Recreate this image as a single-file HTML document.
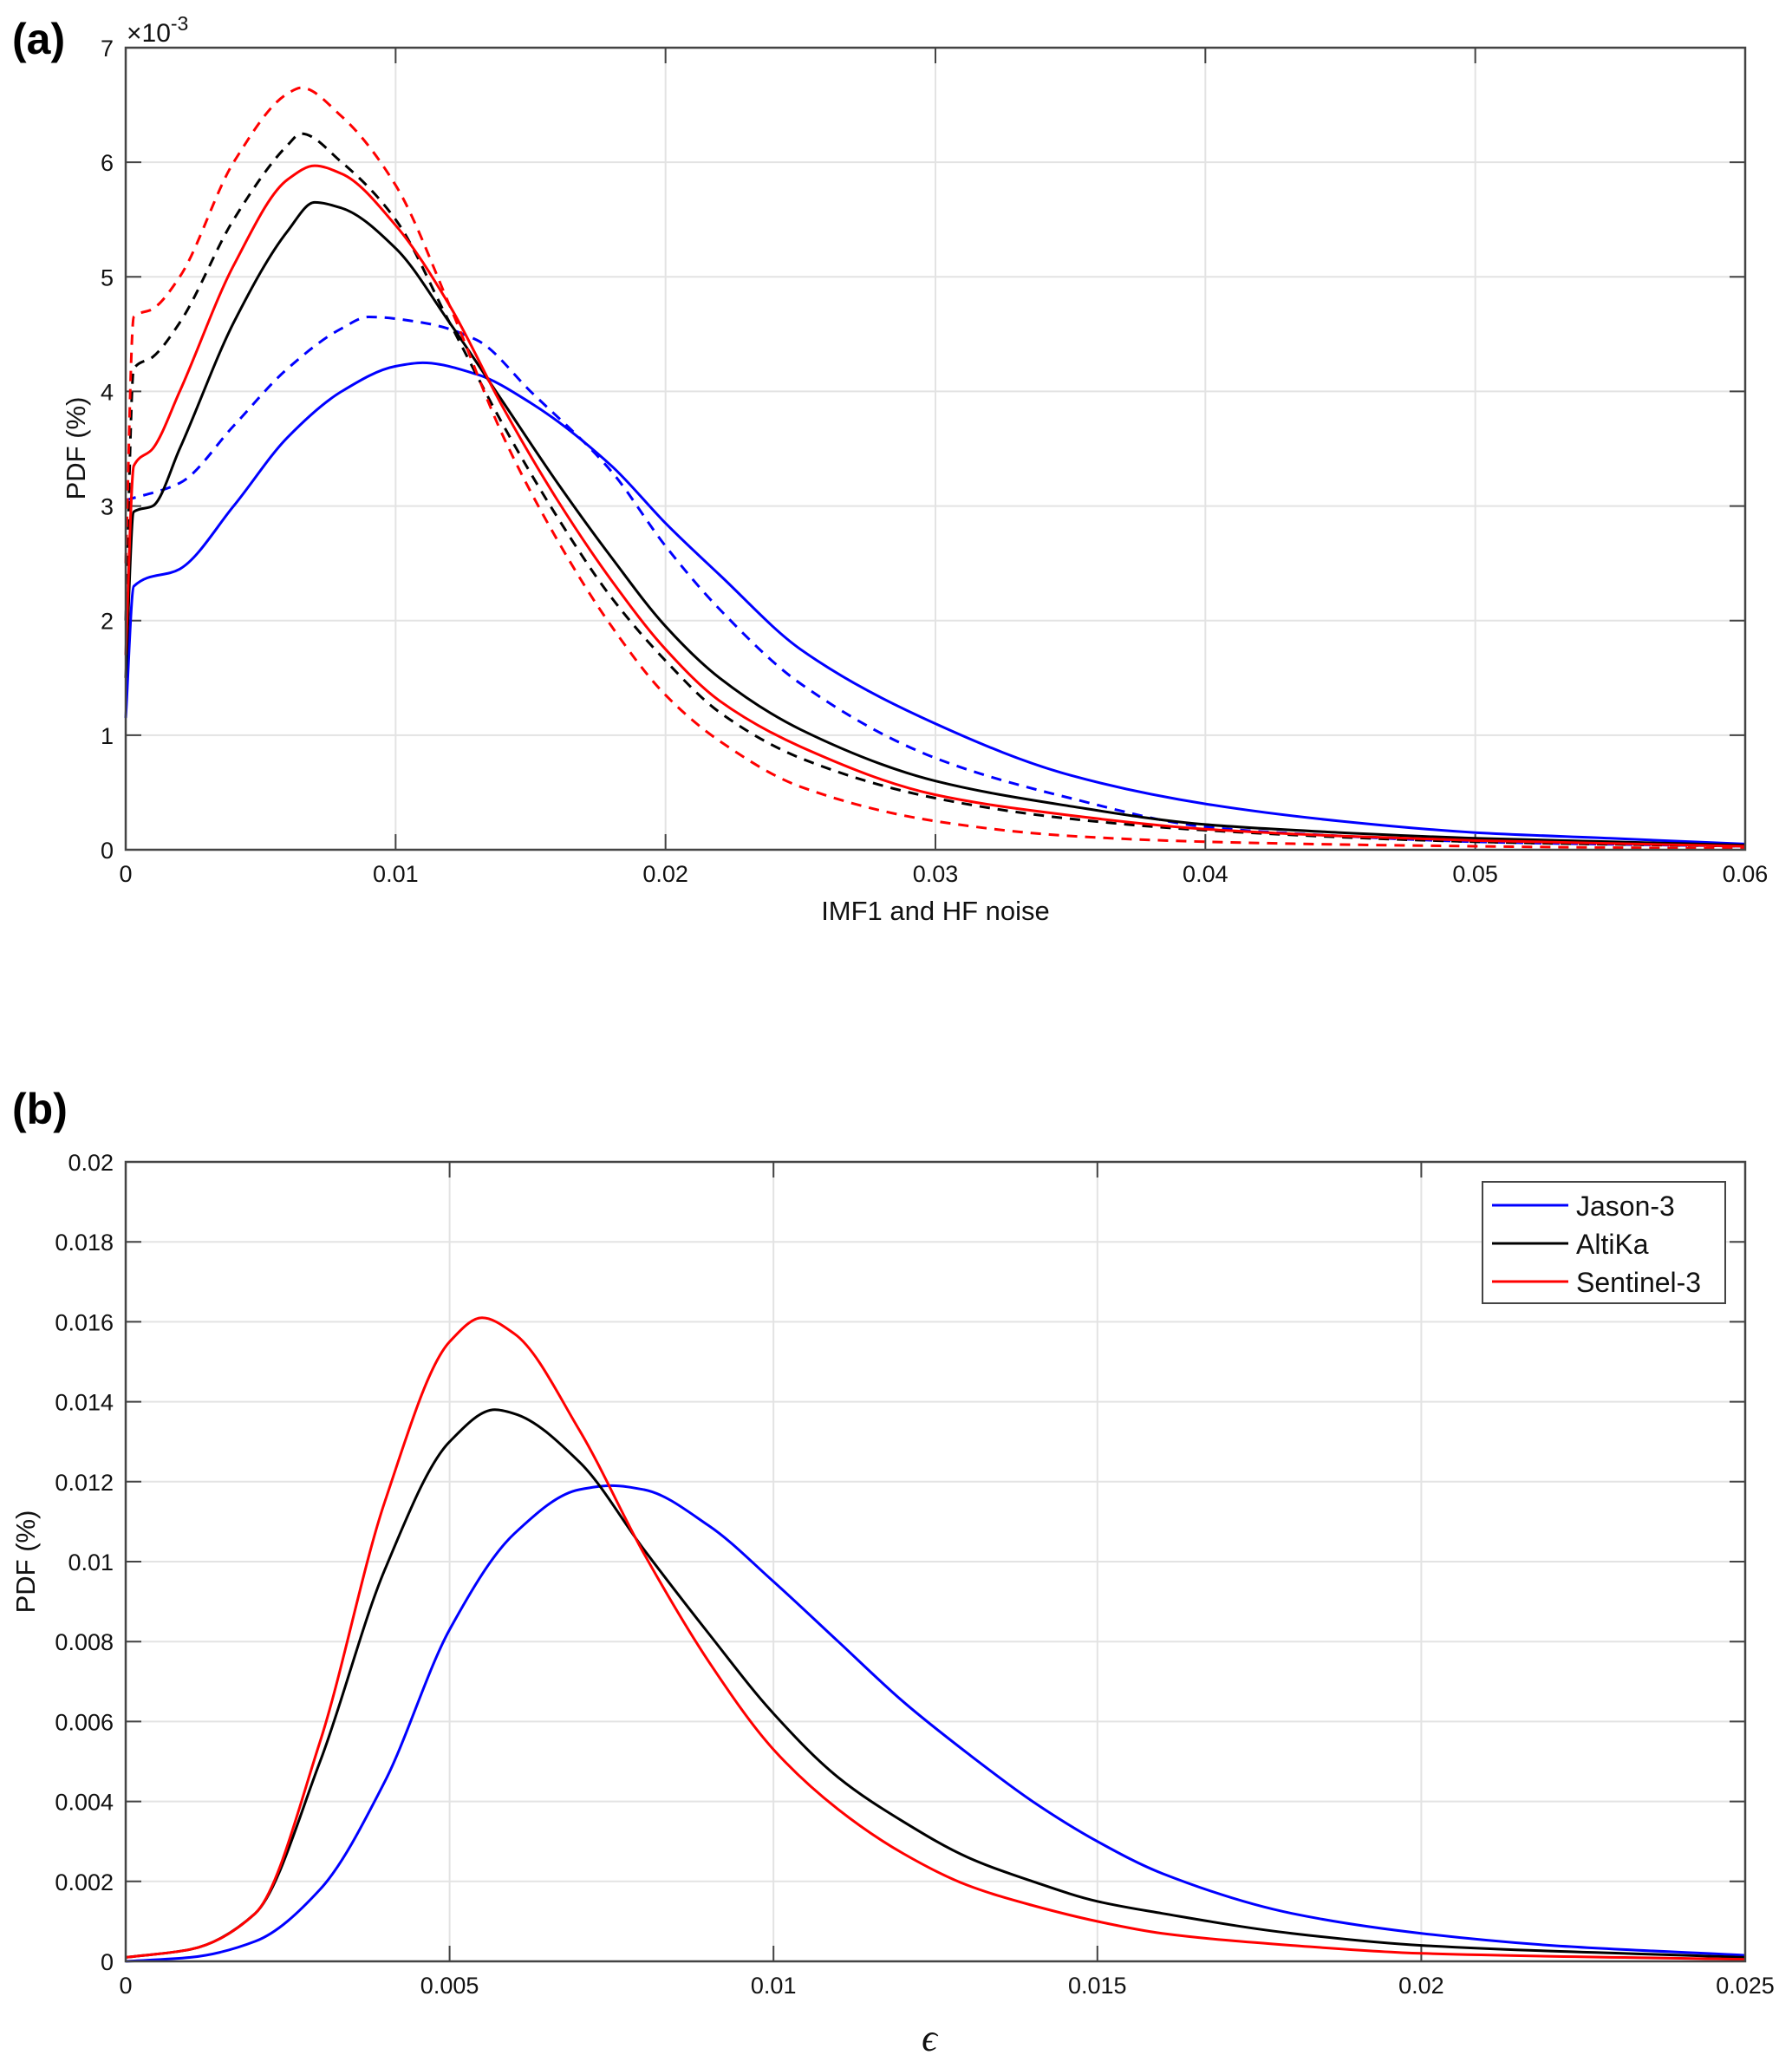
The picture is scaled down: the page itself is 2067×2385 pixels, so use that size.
<!DOCTYPE html>
<html><head><meta charset="utf-8"><style>
html,body{margin:0;padding:0;background:#fff;}
svg{display:block;font-family:"Liberation Sans",Arial,sans-serif;}
</style></head><body>
<svg id="fig" width="2067" height="2385" viewBox="0 0 2067 2385" xmlns="http://www.w3.org/2000/svg">
<rect width="2067" height="2385" fill="#fff"/>
<text x="14" y="62" font-size="50" font-weight="bold">(a)</text>
<text x="14" y="1296" font-size="50" font-weight="bold">(b)</text>
<g id="pa"></g>
<g id="pb"></g>
</svg>
<script>
// Panel (a) data (y in units of 1e-3)
const aTicksX = [0,0.01,0.02,0.03,0.04,0.05,0.06];
const aTickLabelsX = ["0","0.01","0.02","0.03","0.04","0.05","0.06"];
const aTicksY = [0,1,2,3,4,5,6,7];
const aX_blueSolid = [0,0.0003,0.002,0.004,0.006,0.008,0.01,0.011,0.013,0.015,0.018,0.02,0.022,0.025,0.03,0.035,0.04,0.045,0.05,0.055,0.06];
const aY_blueSolid = [1.15,2.3,2.45,3.0,3.6,4.0,4.22,4.25,4.15,3.9,3.35,2.85,2.4,1.75,1.1,0.65,0.4,0.25,0.15,0.1,0.05];
const aX_blueDash = [0,0.002,0.004,0.006,0.008,0.009,0.011,0.013,0.015,0.018,0.02,0.022,0.025,0.03,0.035,0.04,0.045,0.05,0.06];
const aY_blueDash = [3.05,3.2,3.7,4.2,4.55,4.65,4.6,4.45,4.0,3.3,2.65,2.1,1.45,0.8,0.45,0.2,0.12,0.07,0.03];
const aX_blackSolid = [0,0.0003,0.001,0.002,0.004,0.006,0.007,0.008,0.01,0.012,0.014,0.016,0.018,0.02,0.022,0.025,0.03,0.035,0.04,0.045,0.05,0.06];
const aY_blackSolid = [1.5,2.95,3.0,3.5,4.6,5.4,5.65,5.6,5.25,4.6,3.9,3.2,2.55,1.95,1.5,1.05,0.6,0.38,0.22,0.15,0.1,0.04];
const aX_blackDash = [0,0.0003,0.001,0.002,0.004,0.006,0.0065,0.008,0.01,0.012,0.014,0.016,0.018,0.02,0.022,0.025,0.03,0.035,0.04,0.05,0.06];
const aY_blackDash = [2.0,4.2,4.3,4.6,5.5,6.15,6.25,6.0,5.5,4.6,3.7,2.9,2.2,1.65,1.2,0.8,0.45,0.27,0.17,0.07,0.03];
const aX_redSolid = [0,0.0003,0.001,0.002,0.004,0.006,0.007,0.008,0.01,0.012,0.014,0.016,0.018,0.02,0.022,0.025,0.03,0.035,0.04,0.045,0.05,0.06];
const aY_redSolid = [1.7,3.35,3.5,4.0,5.1,5.85,5.97,5.9,5.45,4.75,3.85,3.05,2.35,1.75,1.3,0.9,0.48,0.3,0.18,0.12,0.08,0.03];
const aX_redDash = [0,0.0003,0.001,0.002,0.004,0.006,0.0065,0.008,0.01,0.012,0.014,0.016,0.018,0.02,0.022,0.025,0.03,0.035,0.04,0.05,0.06];
const aY_redDash = [2.5,4.65,4.72,5.0,6.0,6.6,6.65,6.4,5.8,4.75,3.6,2.7,1.95,1.35,0.95,0.55,0.25,0.12,0.07,0.03,0.01];

// Panel (b) data
const bTicksX = [0,0.005,0.01,0.015,0.02,0.025];
const bTickLabelsX = ["0","0.005","0.01","0.015","0.02","0.025"];
const bTicksY = [0,0.002,0.004,0.006,0.008,0.01,0.012,0.014,0.016,0.018,0.02];
const bTickLabelsY = ["0","0.002","0.004","0.006","0.008","0.01","0.012","0.014","0.016","0.018","0.02"];
const bX_jason = [0,0.001,0.002,0.003,0.004,0.005,0.006,0.007,0.0075,0.008,0.009,0.01,0.011,0.012,0.013,0.014,0.015,0.016,0.018,0.02,0.022,0.025];
const bY_jason = [0,0.0001,0.0005,0.0018,0.0045,0.0083,0.0107,0.0118,0.0119,0.0118,0.0109,0.0095,0.0080,0.0065,0.0052,0.0040,0.0030,0.0022,0.0012,0.0007,0.0004,0.00015];
const bX_altika = [0,0.001,0.002,0.003,0.004,0.005,0.0057,0.006,0.007,0.008,0.009,0.01,0.011,0.012,0.013,0.014,0.015,0.016,0.018,0.02,0.025];
const bY_altika = [0.0001,0.0003,0.0012,0.0050,0.0098,0.0130,0.0138,0.0137,0.0125,0.0103,0.0082,0.0062,0.0046,0.0035,0.0026,0.0020,0.0015,0.0012,0.0007,0.0004,0.0001];
const bX_sentinel = [0,0.001,0.002,0.003,0.004,0.005,0.0055,0.006,0.007,0.008,0.009,0.01,0.011,0.012,0.013,0.014,0.015,0.016,0.018,0.02,0.025];
const bY_sentinel = [0.0001,0.0003,0.0012,0.0055,0.0115,0.0155,0.0161,0.0157,0.0133,0.0102,0.0075,0.0053,0.0038,0.0027,0.0019,0.0014,0.0010,0.0007,0.0004,0.0002,0.00005];
const legendLabels = ["Jason-3","AltiKa","Sentinel-3"];

const NS="http://www.w3.org/2000/svg";
function mk(parent,tag,attrs,text){const e=document.createElementNS(NS,tag);for(const k in attrs)e.setAttribute(k,attrs[k]);if(text!==undefined)e.textContent=text;parent.appendChild(e);return e;}
// monotone cubic (Fritsch-Carlson) path through screen points
function smooth(p){const n=p.length;const d=[],m=[];
  for(let i=0;i<n-1;i++)d.push((p[i+1][1]-p[i][1])/(p[i+1][0]-p[i][0]));
  m[0]=d[0];m[n-1]=d[n-2];
  for(let i=1;i<n-1;i++){if(d[i-1]*d[i]<=0)m[i]=0;else{const h0=p[i][0]-p[i-1][0],h1=p[i+1][0]-p[i][0];const w1=2*h1+h0,w2=h1+2*h0;m[i]=(w1+w2)/(w1/d[i-1]+w2/d[i]);}}
  let s="M"+p[0][0].toFixed(1)+","+p[0][1].toFixed(1);
  for(let i=0;i<n-1;i++){const h=(p[i+1][0]-p[i][0])/3;
    s+="C"+(p[i][0]+h).toFixed(1)+","+(p[i][1]+m[i]*h).toFixed(1)+" "+(p[i+1][0]-h).toFixed(1)+","+(p[i+1][1]-m[i+1]*h).toFixed(1)+" "+p[i+1][0].toFixed(1)+","+p[i+1][1].toFixed(1);}
  return s;}

function axes(g,L,T,R,B,xs,ys,ticksX,labelsX,ticksY,labelsY){
  mk(g,'rect',{x:L,y:T,width:R-L,height:B-T,fill:'#fff'});
  ticksX.forEach((v,i)=>{const x=xs(v);
    if(i>0&&i<ticksX.length-1){const gl=mk(g,'line',{x1:x,y1:T,x2:x,y2:B,stroke:'#e3e3e3','stroke-width':2});}
    const t=mk(g,'text',{x:x,y:B+37,'font-size':27,'text-anchor':'middle',fill:'#111'},labelsX[i]);
    
    mk(g,'line',{x1:x,y1:B,x2:x,y2:B-18,stroke:'#444','stroke-width':2});mk(g,'line',{x1:x,y1:T,x2:x,y2:T+18,stroke:'#444','stroke-width':2});});
  ticksY.forEach((v,i)=>{const y=ys(v);
    if(i>0&&i<ticksY.length-1){const gl=mk(g,'line',{x1:L,y1:y,x2:R,y2:y,stroke:'#e3e3e3','stroke-width':2});}
    const t=mk(g,'text',{x:L-14,y:y+10,'font-size':27,'text-anchor':'end',fill:'#111'},labelsY[i]);
    
    mk(g,'line',{x1:L,y1:y,x2:L+18,y2:y,stroke:'#444','stroke-width':2});mk(g,'line',{x1:R,y1:y,x2:R-18,y2:y,stroke:'#444','stroke-width':2});});
}
function frame(g,L,T,R,B){const f=mk(g,'rect',{x:L,y:T,width:R-L,height:B-T,fill:'none',stroke:'#444','stroke-width':2.5});}
function series(g,X,Y,xs,ys,color,dash,name){const p=mk(g,'path',{d:smooth(X.map((x,i)=>[xs(x),ys(Y[i])])),fill:'none',stroke:color,'stroke-width':3,'stroke-dasharray':dash||'none'});}

// Panel a
(function(){
  const g=document.getElementById('pa');const L=145,T=55,R=2013,B=980;
  const xs=v=>L+(v/0.06)*(R-L), ys=v=>B-(v/7)*(B-T);
  axes(g,L,T,R,B,xs,ys,aTicksX,aTickLabelsX,aTicksY,aTicksY.map(String));
  const D='12,9';
  series(g,aX_blueDash,aY_blueDash,xs,ys,'#0000ff',D,'jason3-imf1-dashed');
  series(g,aX_blueSolid,aY_blueSolid,xs,ys,'#0000ff',null,'jason3-imf1');
  series(g,aX_blackDash,aY_blackDash,xs,ys,'#000',D,'altika-imf1-dashed');
  series(g,aX_blackSolid,aY_blackSolid,xs,ys,'#000',null,'altika-imf1');
  series(g,aX_redDash,aY_redDash,xs,ys,'#ff0000',D,'sentinel3-imf1-dashed');
  series(g,aX_redSolid,aY_redSolid,xs,ys,'#ff0000',null,'sentinel3-imf1');
  frame(g,L,T,R,B);
  const e=mk(g,'text',{x:146,y:48,'font-size':30,fill:'#111'});e.innerHTML='×10<tspan dy="-13" font-size="23">-3</tspan>';
  
  const xt=mk(g,'text',{x:1079,y:1061,'font-size':31,'text-anchor':'middle',fill:'#111'},'IMF1 and HF noise');
  
  const yt=mk(g,'text',{x:0,y:0,'font-size':31,'text-anchor':'middle',fill:'#111',transform:'translate(98,517) rotate(-90)'},'PDF (%)');
  
})();

// Panel b
(function(){
  const g=document.getElementById('pb');const L=145,T=1340,R=2013,B=2262;
  const xs=v=>L+(v/0.025)*(R-L), ys=v=>B-(v/0.02)*(B-T);
  axes(g,L,T,R,B,xs,ys,bTicksX,bTickLabelsX,bTicksY,bTickLabelsY);
  series(g,bX_jason,bY_jason,xs,ys,'#0000ff',null,'jason3-curve');
  series(g,bX_altika,bY_altika,xs,ys,'#000',null,'altika-curve');
  series(g,bX_sentinel,bY_sentinel,xs,ys,'#ff0000',null,'sentinel3-curve');
  frame(g,L,T,R,B);
  const lg=mk(g,'g',{});
  mk(lg,'rect',{x:1710,y:1363,width:280,height:140,fill:'#fff',stroke:'#444','stroke-width':2});
  const cols=['#0000ff','#000','#ff0000'];
  legendLabels.forEach((s,i)=>{const y=1390+i*44;
    const e=mk(lg,'g',{});
    mk(e,'line',{x1:1721,y1:y,x2:1809,y2:y,stroke:cols[i],'stroke-width':3});
    mk(e,'text',{x:1818,y:y+12,'font-size':32,fill:'#111'},s);});
  const xt=mk(g,'text',{x:1072,y:2365,'font-size':44,'font-style':'italic','font-family':'"Liberation Serif",serif','text-anchor':'middle',fill:'#111'},'ϵ');
  
  const yt=mk(g,'text',{x:0,y:0,'font-size':31,'text-anchor':'middle',fill:'#111',transform:'translate(40,1801) rotate(-90)'},'PDF (%)');
  
})();
</script>
</body></html>
